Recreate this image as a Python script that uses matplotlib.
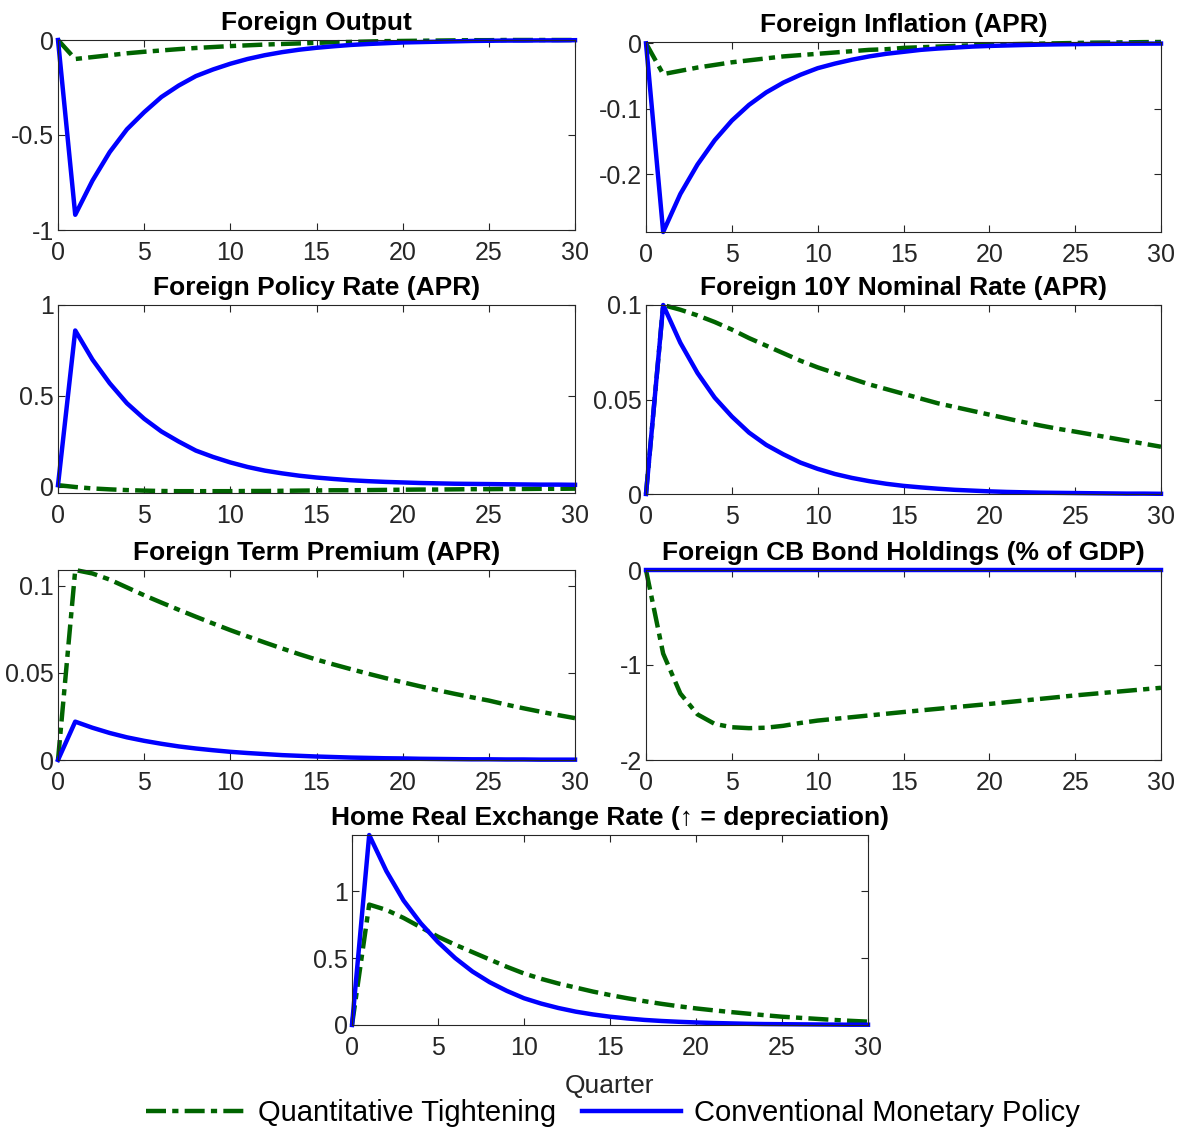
import matplotlib
matplotlib.use('Agg')
import matplotlib.pyplot as plt
from matplotlib.ticker import FuncFormatter
from matplotlib.lines import Line2D

plt.rcParams['font.family'] = ['Liberation Sans', 'DejaVu Sans']
plt.rcParams['axes.unicode_minus'] = False

quarters = list(range(31))

# Quantitative Tightening (green) and Conventional Monetary Policy (blue)
qt_output = [0, -0.10, -0.09, -0.08, -0.07, -0.062, -0.055, -0.048, -0.042, -0.037, -0.032,
             -0.028, -0.024, -0.021, -0.018, -0.015, -0.012, -0.010, -0.008, -0.006, -0.005,
             -0.004, -0.003, -0.002, -0.001, -0.001, 0, 0, 0, 0, 0]
cmp_output = [0, -0.92, -0.74, -0.59, -0.47, -0.38, -0.30, -0.24, -0.19, -0.155, -0.125,
              -0.10, -0.08, -0.064, -0.051, -0.041, -0.033, -0.026, -0.021, -0.017, -0.013,
              -0.011, -0.009, -0.007, -0.005, -0.004, -0.003, -0.003, -0.002, -0.002, -0.001]

qt_infl = [0, -0.047, -0.042, -0.037, -0.033, -0.029, -0.026, -0.023, -0.020, -0.018, -0.016,
           -0.014, -0.012, -0.010, -0.009, -0.007, -0.006, -0.005, -0.004, -0.003, -0.002,
           -0.0015, -0.001, -0.0005, 0, 0.0005, 0.001, 0.0012, 0.0015, 0.0018, 0.002]
cmp_infl = [0, -0.288, -0.23, -0.185, -0.148, -0.118, -0.094, -0.075, -0.06, -0.048, -0.038,
            -0.031, -0.025, -0.02, -0.016, -0.013, -0.010, -0.008, -0.0065, -0.005, -0.004,
            -0.0033, -0.0026, -0.002, -0.0016, -0.0013, -0.001, -0.0008, -0.0006, -0.0005, -0.0004]

qt_policy = [0.01, 0.0, -0.008, -0.013, -0.017, -0.02, -0.022, -0.023, -0.023, -0.023, -0.023,
             -0.022, -0.022, -0.021, -0.02, -0.019, -0.018, -0.018, -0.017, -0.016, -0.015,
             -0.014, -0.014, -0.013, -0.012, -0.012, -0.011, -0.011, -0.01, -0.01, -0.009]
cmp_policy = [0.01, 0.86, 0.70, 0.57, 0.46, 0.375, 0.305, 0.25, 0.20, 0.165, 0.135,
              0.11, 0.09, 0.075, 0.062, 0.052, 0.044, 0.037, 0.032, 0.028, 0.025,
              0.022, 0.020, 0.018, 0.017, 0.016, 0.015, 0.014, 0.013, 0.013, 0.012]

qt_10y = [0, 0.1, 0.0975, 0.0945, 0.091, 0.087, 0.0825, 0.0785, 0.0745, 0.0705, 0.067,
          0.064, 0.061, 0.058, 0.0555, 0.053, 0.0505, 0.048, 0.046, 0.044, 0.042,
          0.040, 0.038, 0.0362, 0.0345, 0.033, 0.0314, 0.0298, 0.0282, 0.0266, 0.025]
cmp_10y = [0, 0.1, 0.08, 0.064, 0.051, 0.041, 0.0325, 0.026, 0.021, 0.0166, 0.0133,
           0.0106, 0.0085, 0.0068, 0.0054, 0.0043, 0.0035, 0.0028, 0.0022, 0.0018, 0.0014,
           0.0011, 0.0009, 0.0007, 0.0006, 0.0005, 0.0004, 0.0003, 0.0002, 0.0002, 0.0001]

qt_tp = [0, 0.109, 0.107, 0.1035, 0.099, 0.0945, 0.0903, 0.0862, 0.0822, 0.0783, 0.0745,
         0.0709, 0.0674, 0.064, 0.0607, 0.0576, 0.0548, 0.0521, 0.0495, 0.047, 0.0446,
         0.0423, 0.0401, 0.038, 0.036, 0.0341, 0.0318, 0.0297, 0.0277, 0.0258, 0.024]
cmp_tp = [0, 0.022, 0.0185, 0.0155, 0.013, 0.011, 0.0093, 0.0078, 0.0066, 0.0056, 0.0047,
          0.004, 0.0034, 0.0028, 0.0024, 0.002, 0.0017, 0.0014, 0.0012, 0.001, 0.0009,
          0.0007, 0.0006, 0.0005, 0.0004, 0.0004, 0.0003, 0.0003, 0.0002, 0.0002, 0.0002]

qt_cb = [0, -0.88, -1.3, -1.52, -1.62, -1.655, -1.665, -1.66, -1.64, -1.61, -1.585,
         -1.567, -1.549, -1.531, -1.513, -1.495, -1.478, -1.461, -1.444, -1.427, -1.41,
         -1.392, -1.374, -1.356, -1.338, -1.32, -1.304, -1.288, -1.272, -1.256, -1.24]
cmp_cb = [0] * 31

qt_rer = [0, 0.9, 0.86, 0.8, 0.73, 0.66, 0.6, 0.545, 0.49, 0.435, 0.385,
          0.345, 0.31, 0.28, 0.25, 0.224, 0.2, 0.178, 0.158, 0.14, 0.124,
          0.11, 0.097, 0.085, 0.073, 0.062, 0.054, 0.046, 0.038, 0.031, 0.025]
cmp_rer = [0, 1.42, 1.15, 0.93, 0.76, 0.62, 0.5, 0.4, 0.32, 0.255, 0.2,
           0.16, 0.127, 0.1, 0.079, 0.062, 0.049, 0.038, 0.03, 0.024, 0.019,
           0.015, 0.012, 0.009, 0.007, 0.006, 0.005, 0.004, 0.003, 0.002, 0.002]

titles = ['Foreign Output', 'Foreign Inflation (APR)', 'Foreign Policy Rate (APR)',
          'Foreign 10Y Nominal Rate (APR)', 'Foreign Term Premium (APR)',
          'Foreign CB Bond Holdings (% of GDP)', 'Home Real Exchange Rate (\u2191 = depreciation)']
qt_series = [qt_output, qt_infl, qt_policy, qt_10y, qt_tp, qt_cb, qt_rer]
cmp_series = [cmp_output, cmp_infl, cmp_policy, cmp_10y, cmp_tp, cmp_cb, cmp_rer]
ylims = [(-1, 0), (-0.288, 0.002), (-0.033, 1.0), (0, 0.1), (0, 0.109), (-2, 0), (0, 1.42)]
yticks = [[-1, -0.5, 0], [-0.2, -0.1, 0], [0, 0.5, 1], [0, 0.05, 0.1],
          [0, 0.05, 0.1], [-2, -1, 0], [0, 0.5, 1]]

# axes rectangles in figure fraction
W, H = 1181.0, 1131.0
boxes = [(58, 40, 575, 230), (646, 42, 1161, 232),
         (58, 305, 575, 493), (646, 305, 1161, 494),
         (58, 570, 575, 760), (646, 570, 1161, 760),
         (352, 835, 868, 1025)]

green = '#006400'
blue = '#0000ff'
qt_style = (0, (4.5, 1.4, 1.4, 1.4))
gray = '#262626'

fig = plt.figure(figsize=(W / 100, H / 100), dpi=100)

for i in range(7):
    x0, y0, x1, y1 = boxes[i]
    ax = fig.add_axes([x0 / W, 1 - y1 / H, (x1 - x0) / W, (y1 - y0) / H])
    ax.plot(quarters, qt_series[i], color=green, lw=3.2, linestyle=qt_style, clip_on=False)
    ax.plot(quarters, cmp_series[i], color=blue, lw=3.2, clip_on=False)
    ax.set_xlim(0, 30)
    ax.set_ylim(*ylims[i])
    ax.set_xticks(range(0, 31, 5))
    ax.set_yticks(yticks[i])
    ax.yaxis.set_major_formatter(FuncFormatter(lambda v, p: '{:g}'.format(round(v, 4))))
    ax.tick_params(direction='in', top=True, right=True, length=5, width=0.8,
                   labelsize=18, colors=gray)
    ax.tick_params(axis='x', pad=8)
    ax.tick_params(axis='y', pad=3)
    for s in ax.spines.values():
        s.set_color(gray)
        s.set_linewidth(0.8)
    ax.set_title(titles[i], fontsize=19, fontweight='bold', pad=7)
    if i == 6:
        ax.set_xlabel('Quarter', fontsize=19, color=gray, labelpad=10)

handles = [Line2D([], [], color=green, lw=3.2, linestyle=qt_style),
           Line2D([], [], color=blue, lw=3.2)]
fig.legend(handles, ['Quantitative Tightening', 'Conventional Monetary Policy'],
           loc='center', bbox_to_anchor=(0.519, 1 - 1113 / H), ncol=2, frameon=False,
           fontsize=21, handlelength=3.4, handletextpad=0.45, columnspacing=0.9)

fig.savefig('out.png', dpi=100)
